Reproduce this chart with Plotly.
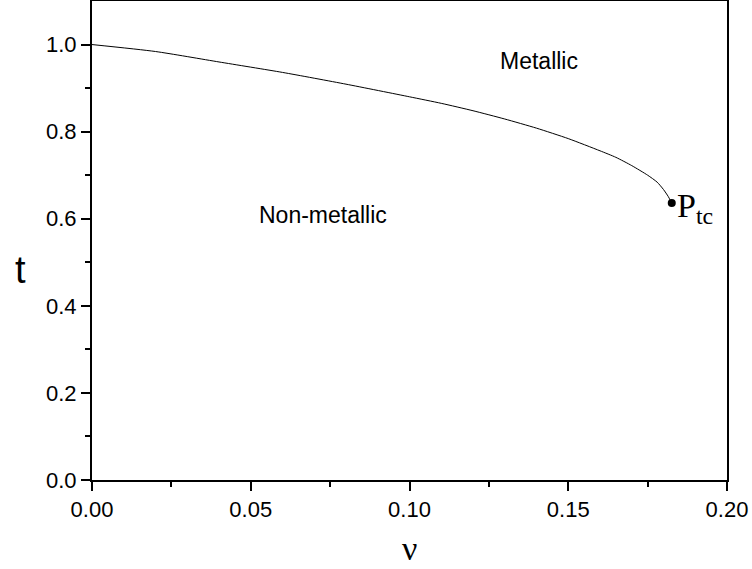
import plotly.graph_objects as go

nu = [0.0, 0.02, 0.04, 0.06, 0.08, 0.10, 0.11, 0.12, 0.13, 0.14, 0.15, 0.16, 0.165, 0.17, 0.175, 0.178, 0.18, 0.1815, 0.1826]
t = [1.0, 0.984, 0.960, 0.936, 0.909, 0.880, 0.865, 0.848, 0.829, 0.808, 0.784, 0.756, 0.741, 0.722, 0.700, 0.684, 0.667, 0.651, 0.636]

ptc_nu = [0.1826]
ptc_t = [0.636]

x_ticks = [0.0, 0.05, 0.10, 0.15, 0.20]
x_labels = ["0.00", "0.05", "0.10", "0.15", "0.20"]
y_ticks = [0.0, 0.2, 0.4, 0.6, 0.8, 1.0]
y_labels = ["0.0", "0.2", "0.4", "0.6", "0.8", "1.0"]

fig = go.Figure()
fig.add_trace(go.Scatter(x=nu, y=t, mode="lines", line=dict(color="black", width=1, shape="spline", smoothing=0.6),
                         hoverinfo="skip", showlegend=False))
fig.add_trace(go.Scatter(x=ptc_nu, y=ptc_t, mode="markers", marker=dict(color="black", size=8),
                         showlegend=False))

sans = "Liberation Sans, Arial, sans-serif"
serif = "Liberation Serif, Times New Roman, serif"
axis_font = dict(family=sans, size=22, color="black")
fig.update_layout(
    width=752, height=569,
    margin=dict(l=92, r=25, t=1, b=89, autoexpand=False),
    paper_bgcolor="white", plot_bgcolor="white",
    font=axis_font,
    xaxis=dict(range=[0, 0.2], tickvals=x_ticks, ticktext=x_labels, ticks="outside", ticklen=9, tickwidth=2,
               tickcolor="black", showline=True, linewidth=2, linecolor="black", mirror=True,
               showgrid=False, zeroline=False, tickfont=axis_font, automargin=False,
               minor=dict(tickvals=[0.025, 0.075, 0.125, 0.175], ticks="outside", ticklen=5, tickwidth=2, tickcolor="black")),
    yaxis=dict(range=[0, 1.1], tickvals=y_ticks, ticktext=y_labels, ticks="outside", ticklen=9, tickwidth=2,
               tickcolor="black", showline=True, linewidth=2, linecolor="black", mirror=True,
               showgrid=False, zeroline=False, tickfont=axis_font, automargin=False,
               minor=dict(tickvals=[0.1, 0.3, 0.5, 0.7, 0.9], ticks="outside", ticklen=5, tickwidth=2, tickcolor="black")),
)

fig.add_annotation(x=0.1407, y=0.962, xref="x", yref="y", text="Metallic", showarrow=False,
                   font=dict(family=sans, size=23, color="black"))
fig.add_annotation(x=0.0728, y=0.609, xref="x", yref="y", text="Non-metallic", showarrow=False,
                   font=dict(family=sans, size=23, color="black"))
fig.add_annotation(x=ptc_nu[0], y=ptc_t[0], xref="x", yref="y", text="P<sub>tc</sub>", showarrow=False,
                   xanchor="left", yanchor="middle", xshift=3, yshift=-5,
                   font=dict(family=serif, size=34, color="black"))
fig.add_annotation(x=0.5, y=-0.142, xref="paper", yref="paper", text="ν", showarrow=False,
                   xanchor="center", yanchor="middle",
                   font=dict(family=serif, size=34, color="black"))
fig.add_annotation(x=-0.113, y=0.438, xref="paper", yref="paper", text="t", showarrow=False,
                   xanchor="center", yanchor="middle",
                   font=dict(family=sans, size=38, color="black"))

fig.write_html("out.html", config={"displayModeBar": False},
               post_script="document.body.style.margin='0';document.body.style.padding='0';")
